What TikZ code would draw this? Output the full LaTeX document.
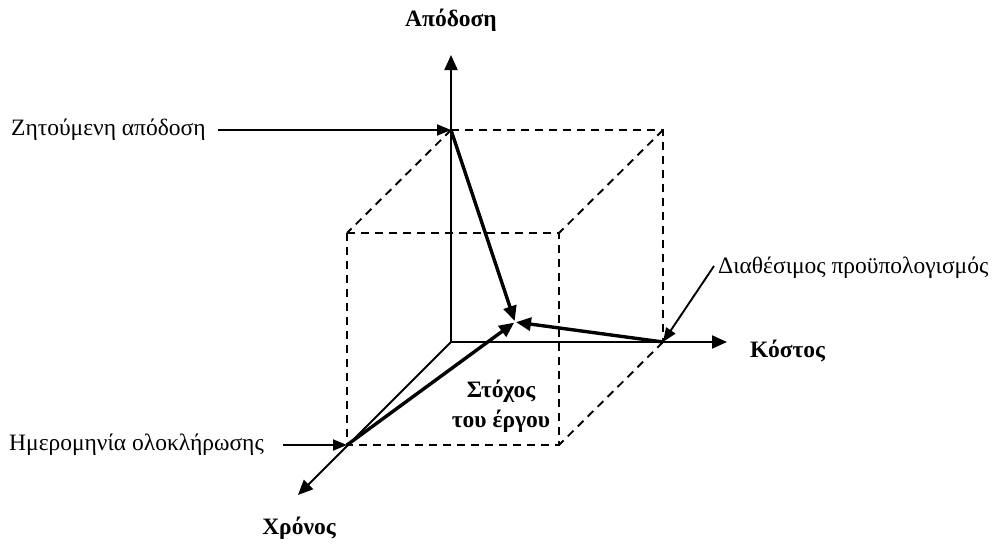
\documentclass[tikz,border=0pt]{standalone}
\usepackage{fontspec}
\setmainfont{Liberation Serif}
\usetikzlibrary{arrows.meta}
\begin{document}
\begin{tikzpicture}[x=1pt,y=-1pt,
  axis/.style={line width=2pt,-{Triangle[length=15pt,width=13pt]}},
  pointer/.style={line width=1.9pt,-{Triangle[length=14pt,width=11pt]}},
  bold arrow/.style={line width=3.4pt,-{Triangle[length=15pt,width=13pt]},shorten >=1pt},
  cube/.style={line width=1.9pt,dash pattern=on 8pt off 6pt},
  lbl/.style={font=\fontsize{23.5}{28}\selectfont,inner sep=0pt},
  blbl/.style={font=\fontsize{23.5}{30}\selectfont\bfseries,inner sep=0pt,align=center}]
\useasboundingbox (0,0) rectangle (995,544);
% key points
\coordinate (O) at (451,342);
\coordinate (P) at (451,130);
\coordinate (Bt) at (663,130);
\coordinate (C) at (663,342);
\coordinate (Ft) at (347,233);
\coordinate (Gt) at (559,233);
\coordinate (H) at (347,445);
\coordinate (Gb) at (559,445);
\coordinate (T) at (515,322);
\coordinate (Ytip) at (451,55);
\coordinate (Xtip) at (727,342);
\coordinate (Ztip) at (298,495);
% dashed cube
\draw[cube] (P) -- (Bt) -- (C);
\draw[cube] (P) -- (Ft);
\draw[cube] (Bt) -- (Gt);
\draw[cube] (C) -- (Gb);
\draw[cube] (Ft) -- (Gt) -- (Gb) -- (H) -- cycle;
% axes
\draw[axis] (O) -- (Ytip);
\draw[axis] (O) -- (Xtip);
\draw[axis] (O) -- (Ztip);
% bold arrows to target
\draw[bold arrow] (P) -- (T);
\draw[bold arrow] (C) -- (T);
\draw[bold arrow] (H) -- (T);
% labels
\node[blbl] (ly) at (451,20) {Απόδοση};
\node[blbl,anchor=west] (lx) at (750,351) {Κόστος};
\node[blbl] (lz) at (299,528) {Χρόνος};
\node[blbl] (goal) at (501,406) {Στόχος\\του έργου};
\node[lbl,anchor=west] (perf) at (11,130) {Ζητούμενη απόδοση};
\node[lbl,anchor=west] (budget) at (718,268) {Διαθέσιμος προϋπολογισμός};
\node[lbl,anchor=west] (date) at (9,445) {Ημερομηνία ολοκλήρωσης};
% pointers
\draw[pointer] (218,130) -- (P);
\draw[pointer] (714,266) -- (C);
\draw[pointer] (283,445) -- (H);
\end{tikzpicture}
\end{document}
